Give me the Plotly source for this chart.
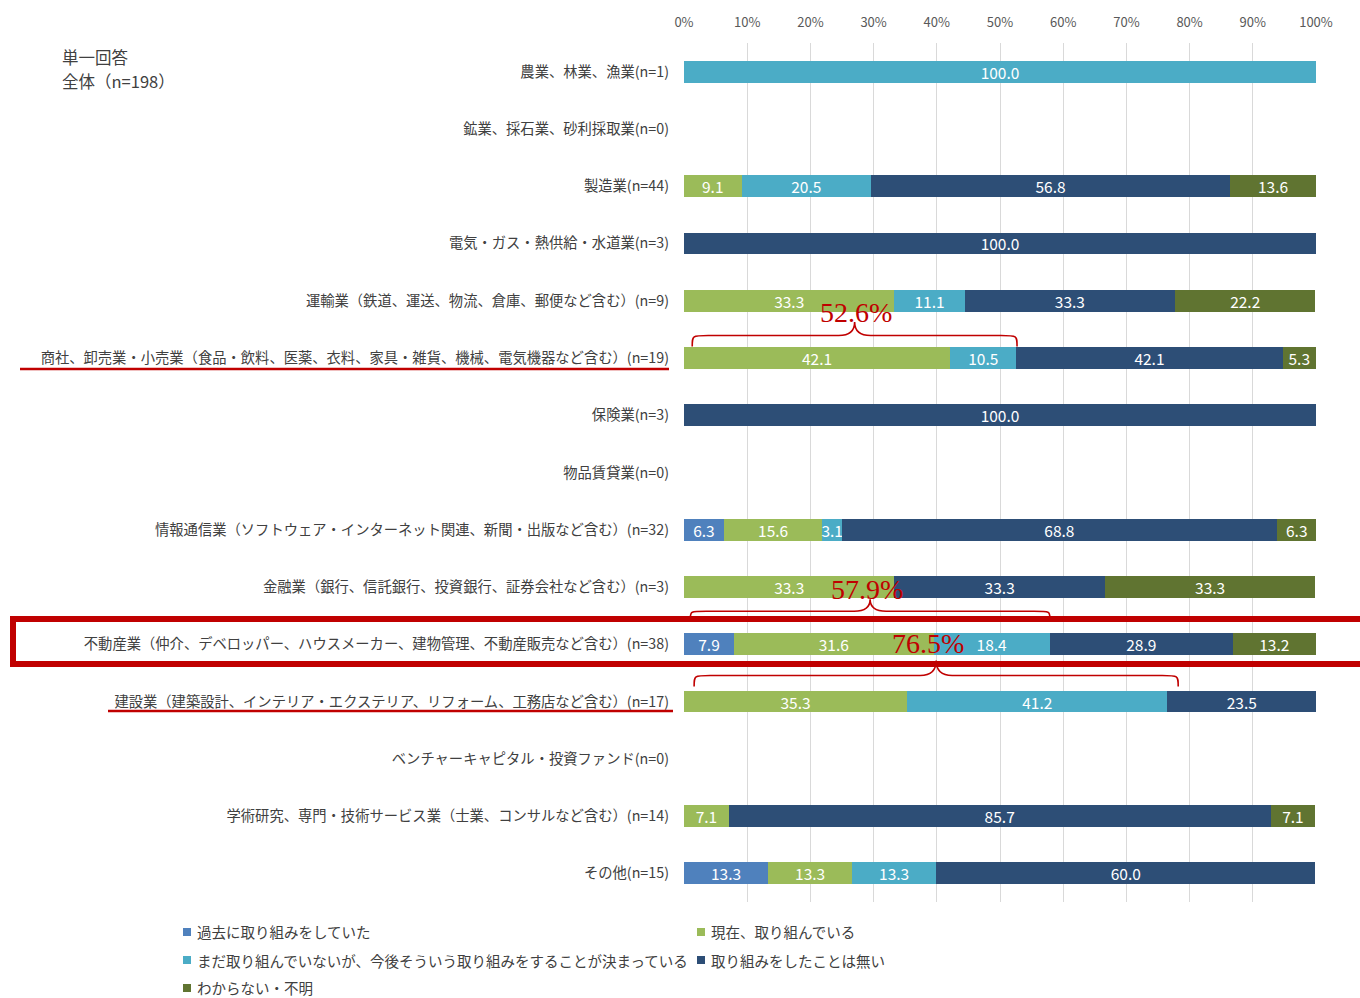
import plotly.graph_objects as go

# Industry categories (top to bottom)
categories = [
    "農業、林業、漁業(n=1)",
    "鉱業、採石業、砂利採取業(n=0)",
    "製造業(n=44)",
    "電気・ガス・熱供給・水道業(n=3)",
    "運輸業（鉄道、運送、物流、倉庫、郵便など含む）(n=9)",
    "商社、卸売業・小売業（食品・飲料、医薬、衣料、家具・雑貨、機械、電気機器など含む）(n=19)",
    "保険業(n=3)",
    "物品賃貸業(n=0)",
    "情報通信業（ソフトウェア・インターネット関連、新聞・出版など含む）(n=32)",
    "金融業（銀行、信託銀行、投資銀行、証券会社など含む）(n=3)",
    "不動産業（仲介、デベロッパー、ハウスメーカー、建物管理、不動産販売など含む）(n=38)",
    "建設業（建築設計、インテリア・エクステリア、リフォーム、工務店など含む）(n=17)",
    "ベンチャーキャピタル・投資ファンド(n=0)",
    "学術研究、専門・技術サービス業（士業、コンサルなど含む）(n=14)",
    "その他(n=15)",
]

series_names = [
    "過去に取り組みをしていた",
    "現在、取り組んでいる",
    "まだ取り組んでいないが、今後そういう取り組みをすることが決まっている",
    "取り組みをしたことは無い",
    "わからない・不明",
]
series_colors = ["#4F81BD", "#9BBB59", "#4BACC6", "#2D4E76", "#607431"]

# Shares in percent (None = no answers in that group)
past =    [None, None, None, None, None, None, None, None, 6.3, None, 7.9, None, None, None, 13.3]
current = [None, None, 9.1, None, 33.3, 42.1, None, None, 15.6, 33.3, 31.6, 35.3, None, 7.1, 13.3]
planned = [100.0, None, 20.5, None, 11.1, 10.5, None, None, 3.1, None, 18.4, 41.2, None, None, 13.3]
never =   [None, None, 56.8, 100.0, 33.3, 42.1, 100.0, None, 68.8, 33.3, 28.9, 23.5, None, 85.7, 60.0]
unknown = [None, None, 13.6, None, 22.2, 5.3, None, None, 6.3, 33.3, 13.2, None, None, 7.1, None]

x_ticks = list(range(0, 101, 10))
x_tick_labels = [f"{v}%" for v in x_ticks]

# Highlighted totals shown with braces
brace_totals = ["52.6%", "57.9%", "76.5%"]

FONT = "Noto Sans CJK JP"
RED = "#C00000"
TEXT = "#404040"

W, H = 1360, 998
ML, MR, MT, MB = 684, 44, 43, 96
PW, PH = W - ML - MR, H - MT - MB
ROW_PX = PH / len(categories)
PCT_PX = PW / 100.0


def fx(px):
    return (px - ML) / PW


def fy(py):
    return (H - MB - py) / PH


rows = list(range(len(categories)))
fig = go.Figure()
for name, color, vals in zip(series_names, series_colors,
                             [past, current, planned, never, unknown]):
    fig.add_trace(go.Bar(
        y=rows, x=vals, name=name, orientation="h",
        marker=dict(color=color, line=dict(width=0)),
        texttemplate="%{x:.1f}", textposition="inside", textangle=0,
        insidetextanchor="middle", constraintext="none",
        textfont=dict(color="white", size=15.5, family=FONT),
        showlegend=False,
    ))


def brace_path(x0, x1, yb, ym, yt, r_px=16):
    """Curly brace opening downward; ends at yb, tip at yt (row units)."""
    r = r_px / PCT_PX
    xm = (x0 + x1) / 2
    q = 0.35 * (yt - ym)
    return (
        f"M{x0},{yb} C{x0},{ym} {x0},{ym} {x0 + r},{ym} "
        f"L{xm - r},{ym} C{xm - r * 0.3},{ym} {xm},{ym + q} {xm},{yt} "
        f"C{xm},{ym + q} {xm + r * 0.3},{ym} {xm + r},{ym} "
        f"L{x1 - r},{ym} C{x1},{ym} {x1},{ym} {x1},{yb}"
    )


def row_off(row, px):
    return row + px / ROW_PX


shapes = []
annotations = []
pct_font = dict(family="Liberation Serif", size=28, color=RED)

# brace above 商社 row (current + planned)
shapes.append(dict(type="path", xref="x", yref="y", layer="above",
                   path=brace_path(1.3, 52.7, row_off(5, -11.5), row_off(5, -22.5), row_off(5, -36)),
                   line=dict(color=RED, width=1.6)))
annotations.append(dict(x=27.2, y=row_off(5, -45), xref="x", yref="y", text=brace_totals[0],
                        showarrow=False, font=pct_font))

# brace above 不動産業 row (past + current + planned)
shapes.append(dict(type="path", xref="x", yref="y", layer="above",
                   path=brace_path(1.0, 57.9, row_off(10, -26), row_off(10, -33), row_off(10, -45)),
                   line=dict(color=RED, width=1.6)))
annotations.append(dict(x=29.0, y=row_off(10, -55), xref="x", yref="y", text=brace_totals[1],
                        showarrow=False, font=pct_font))

# brace above 建設業 row (current + planned)
shapes.append(dict(type="path", xref="x", yref="y", layer="above",
                   path=brace_path(1.6, 78.2, row_off(11, -15), row_off(11, -26), row_off(11, -41)),
                   line=dict(color=RED, width=1.6)))
annotations.append(dict(x=38.6, y=row_off(10, -1), xref="x", yref="y", text=brace_totals[2],
                        showarrow=False, font=pct_font))

# frame around 不動産業 row and underlines of two labels
shapes.append(dict(type="rect", xref="paper", yref="paper", layer="above",
                   x0=fx(13), x1=fx(1370), y0=fy(619), y1=fy(664),
                   line=dict(color=RED, width=6)))
shapes.append(dict(type="line", xref="paper", yref="paper", layer="above",
                   x0=fx(20), x1=fx(669), y0=fy(369), y1=fy(369),
                   line=dict(color=RED, width=2.5)))
shapes.append(dict(type="line", xref="paper", yref="paper", layer="above",
                   x0=fx(108), x1=fx(673), y0=fy(711), y1=fy(711),
                   line=dict(color=RED, width=2.5)))

# header text
for txt, ty in [("単一回答", 57), ("全体（n=198）", 81)]:
    annotations.append(dict(x=fx(60), y=fy(ty), xref="paper", yref="paper",
                            xanchor="left", yanchor="middle", text=txt, showarrow=False,
                            font=dict(family=FONT, size=16.5, color=TEXT)))

# legend entries
legend_pos = [(183, 932), (697, 932), (183, 960), (697, 960), (183, 988)]
for (lx, ly), name, color in zip(legend_pos, series_names, series_colors):
    shapes.append(dict(type="rect", xref="paper", yref="paper", layer="above",
                       x0=fx(lx), x1=fx(lx + 8), y0=fy(ly + 4), y1=fy(ly - 4),
                       fillcolor=color, line=dict(width=0)))
    annotations.append(dict(x=fx(lx + 12), y=fy(ly), xref="paper", yref="paper",
                            xanchor="left", yanchor="middle", text=name, showarrow=False,
                            font=dict(family=FONT, size=14.5, color=TEXT)))

fig.update_layout(
    width=W, height=H,
    margin=dict(l=ML, r=MR, t=MT, b=MB, pad=0),
    barmode="stack", bargap=0.62,
    plot_bgcolor="white", paper_bgcolor="white",
    font=dict(family=FONT, color=TEXT),
    showlegend=False,
    shapes=shapes, annotations=annotations,
    xaxis=dict(side="top", range=[0, 100], tickvals=x_ticks, ticktext=x_tick_labels,
               showgrid=True, gridcolor="#D9D9D9", gridwidth=1, zeroline=False,
               showline=False, ticks="", ticklabelstandoff=12,
               tickfont=dict(family=FONT, size=13, color="#595959"), fixedrange=True),
    yaxis=dict(range=[len(categories) - 0.5, -0.5], tickvals=rows, ticktext=categories,
               showgrid=False, zeroline=False, showline=False, ticks="",
               ticklabelstandoff=14,
               tickfont=dict(family=FONT, size=14.3, color=TEXT), fixedrange=True),
)

fig.write_html("out.html")
